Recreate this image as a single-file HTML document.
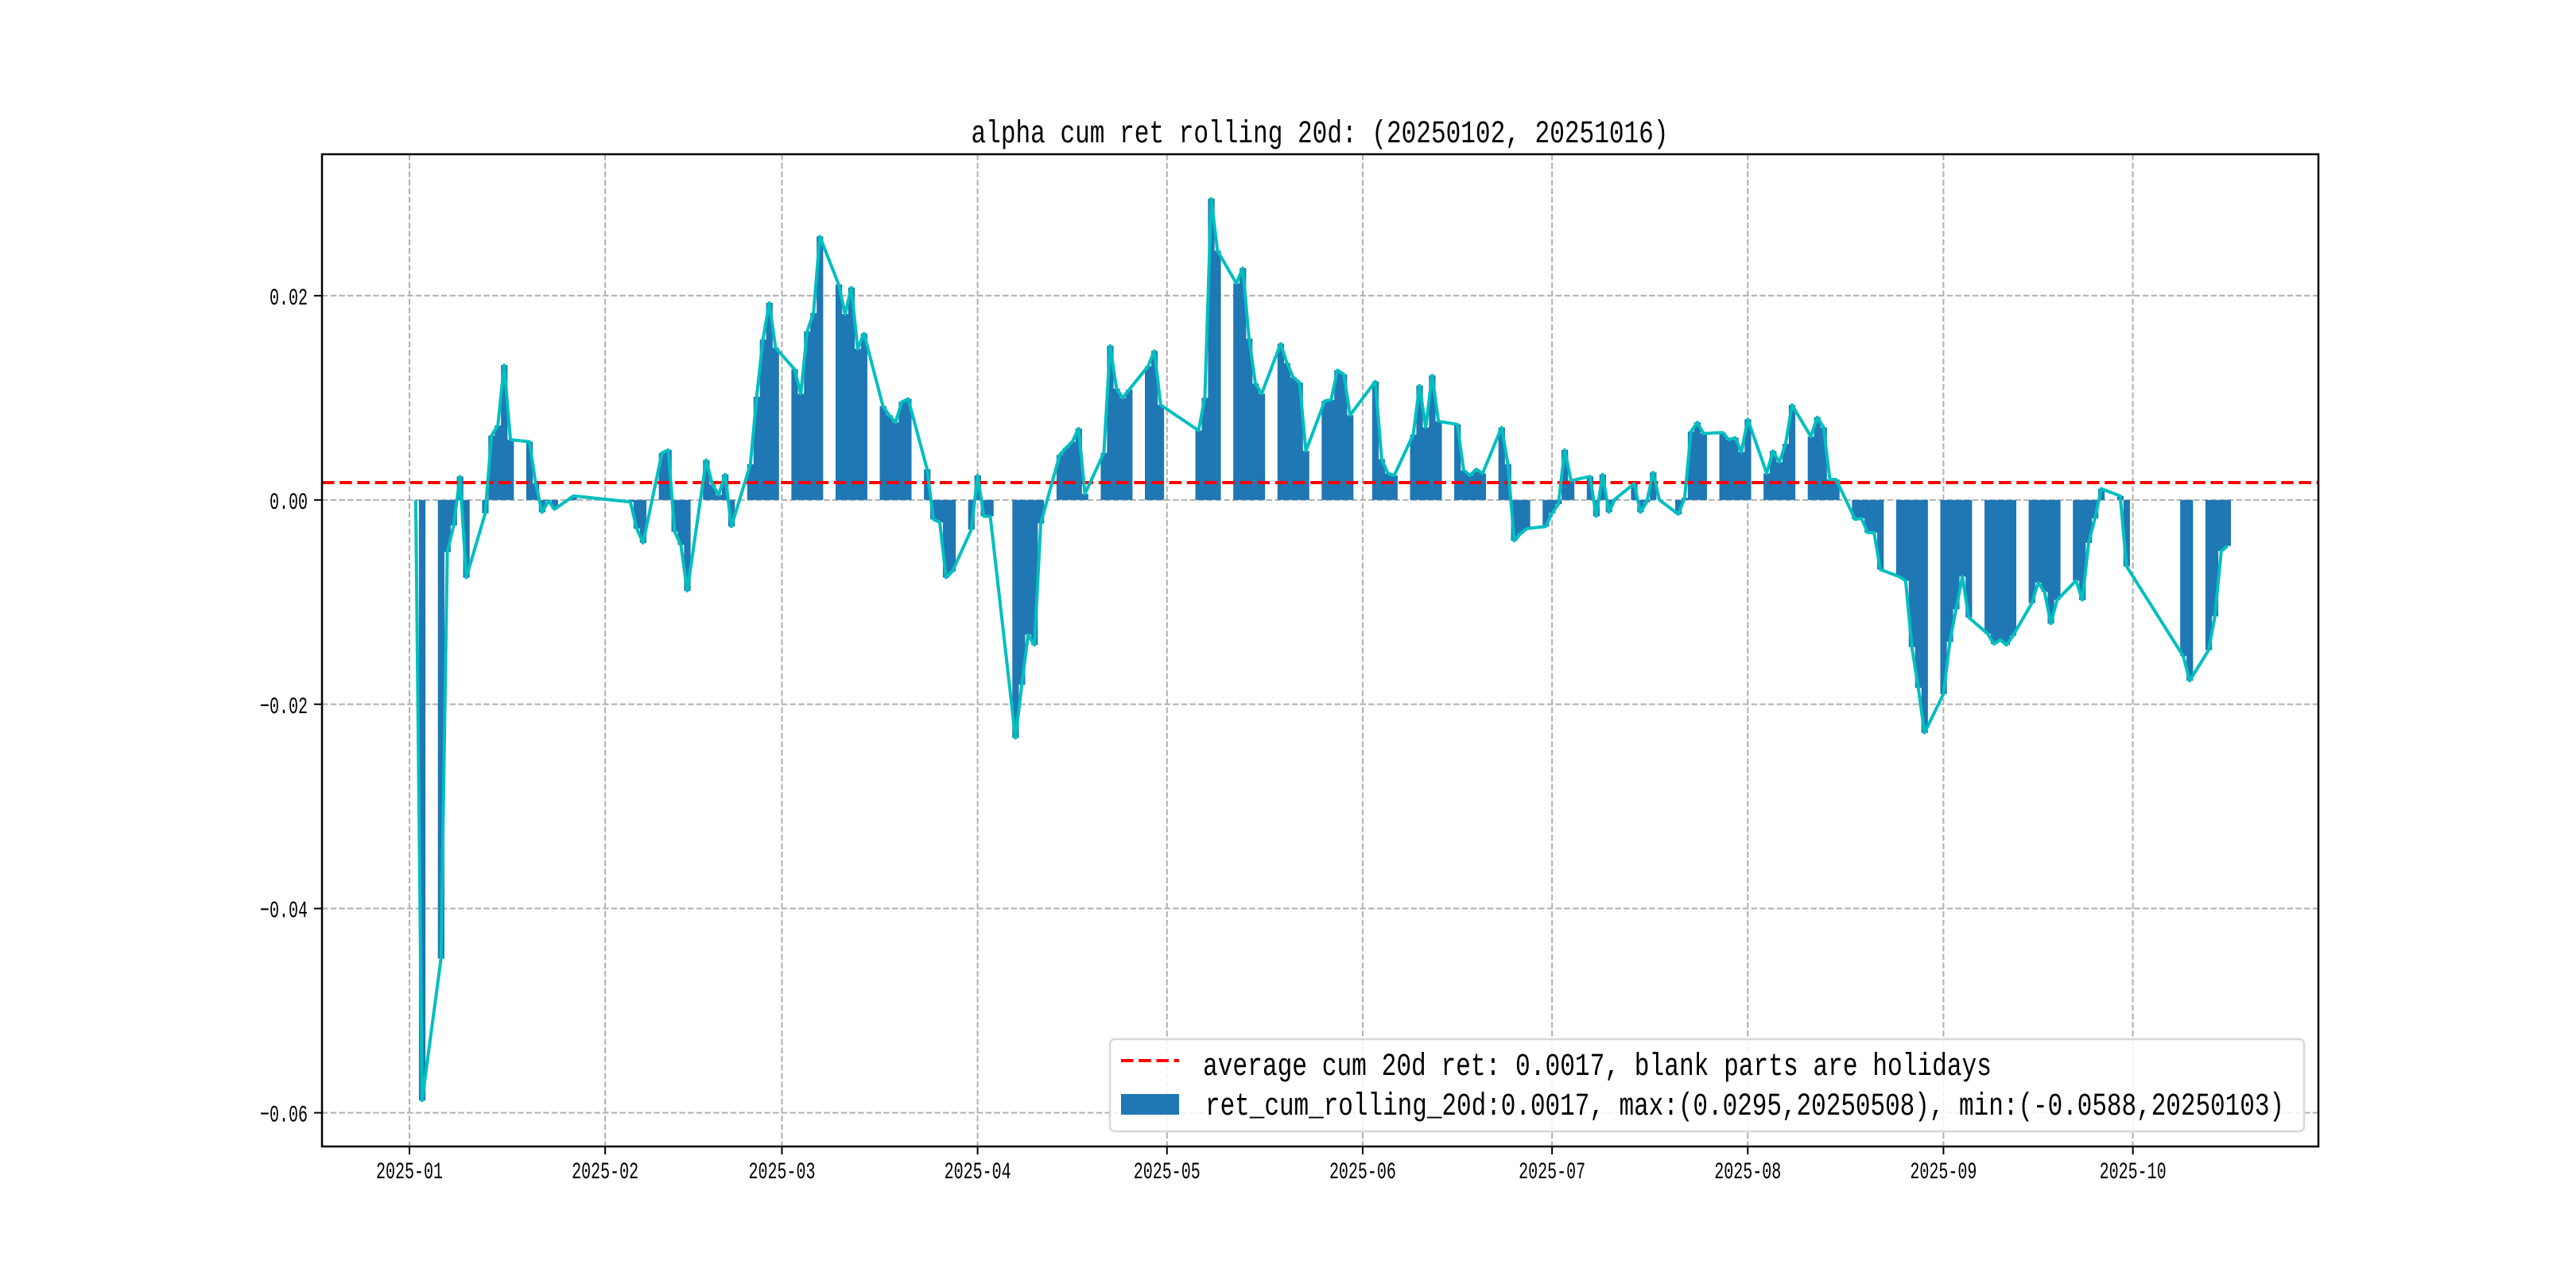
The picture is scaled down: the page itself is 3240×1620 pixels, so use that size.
<!DOCTYPE html>
<html><head><meta charset="utf-8"><style>
html,body{margin:0;padding:0;background:#fff;}
svg{display:block;}
text{font-family:"Liberation Mono","WenQuanYi Zen Hei",monospace;fill:#000;}
</style></head><body>
<svg id="chart" width="3240" height="1620" viewBox="0 0 3240 1620" xmlns="http://www.w3.org/2000/svg">
<rect x="0" y="0" width="3240" height="1620" fill="#fff"/>
<text x="1660" y="179" font-size="40" text-anchor="middle" textLength="877" lengthAdjust="spacingAndGlyphs">alpha cum ret rolling 20d: (20250102, 20251016)</text>
<g id="grid"></g>
<g id="bars"></g>
<g id="avgline"></g>
<g id="line"></g>
<rect x="405" y="194" width="2511" height="1248" fill="none" stroke="#000" stroke-width="2.5"/>
<g id="ticks"></g>
<g>
<rect x="1396" y="1307" width="1502" height="116" rx="6" fill="#fff" fill-opacity="0.85" stroke="#d8d8d8" stroke-width="2.5"/>
<line x1="1410" y1="1334" x2="1483" y2="1334" stroke="#ff0000" stroke-width="4" stroke-dasharray="15.5,6.7"/>
<text x="1513" y="1352" font-size="40" textLength="992" lengthAdjust="spacingAndGlyphs">average cum 20d ret: 0.0017, blank parts are holidays</text>
<rect x="1410" y="1376" width="73" height="26" fill="#1f77b4"/>
<text x="1516" y="1402" font-size="40" textLength="1357" lengthAdjust="spacingAndGlyphs">ret_cum_rolling_20d:0.0017, max:(0.0295,20250508), min:(-0.0588,20250103)</text>
</g>
</svg>
<script>
const dates = ["01-02","01-03","01-06","01-07","01-08","01-09","01-10","01-13","01-14","01-15","01-16","01-17","01-20","01-21","01-22","01-23","01-24","01-27",
"02-05","02-06","02-07","02-10","02-11","02-12","02-13","02-14","02-17","02-18","02-19","02-20","02-21","02-24","02-25","02-26","02-27","02-28",
"03-03","03-04","03-05","03-06","03-07","03-10","03-11","03-12","03-13","03-14","03-17","03-18","03-19","03-20","03-21","03-24","03-25","03-26","03-27","03-28","03-31",
"04-01","04-02","04-03","04-07","04-08","04-09","04-10","04-11","04-14","04-15","04-16","04-17","04-18","04-21","04-22","04-23","04-24","04-25","04-28","04-29","04-30",
"05-06","05-07","05-08","05-09","05-12","05-13","05-14","05-15","05-16","05-19","05-20","05-21","05-22","05-23","05-26","05-27","05-28","05-29","05-30",
"06-03","06-04","06-05","06-06","06-09","06-10","06-11","06-12","06-13","06-16","06-17","06-18","06-19","06-20","06-23","06-24","06-25","06-26","06-27","06-30",
"07-01","07-02","07-03","07-04","07-07","07-08","07-09","07-10","07-11","07-14","07-15","07-16","07-17","07-18","07-21","07-22","07-23","07-24","07-25","07-28","07-29","07-30","07-31",
"08-01","08-04","08-05","08-06","08-07","08-08","08-11","08-12","08-13","08-14","08-15","08-18","08-19","08-20","08-21","08-22","08-25","08-26","08-27","08-28","08-29",
"09-01","09-02","09-03","09-04","09-05","09-08","09-09","09-10","09-11","09-12","09-15","09-16","09-17","09-18","09-19","09-22","09-23","09-24","09-25","09-26","09-29","09-30",
"10-09","10-10","10-13","10-14","10-15","10-16"];
const values = [0,-0.0588,-0.0449,-0.0051,-0.0025,0.0023,-0.0076,-0.0013,0.0063,0.0073,0.0132,0.0059,0.0057,0.0016,-0.0012,-0.0001,-0.0009,0.0004,
-0.0002,-0.0028,-0.0042,0.0046,0.0049,-0.0031,-0.0044,-0.0089,0.0039,0.0015,0.0005,0.0025,-0.0026,0.0035,0.0101,0.0157,0.0193,0.0149,
0.0128,0.0104,0.0165,0.0183,0.0258,0.0211,0.0182,0.0208,0.0148,0.0163,0.0092,0.0083,0.0076,0.0096,0.0099,0.0030,-0.0019,-0.0022,-0.0076,-0.0070,-0.0029,
0.0024,-0.0016,-0.0016,-0.0233,-0.0181,-0.0132,-0.0142,-0.0023,0.0044,0.0051,0.0057,0.0070,0.0006,0.0046,0.0151,0.0109,0.0100,0.0108,0.0131,0.0146,0.0093,
0.0068,0.0100,0.0295,0.0244,0.0212,0.0227,0.0158,0.0114,0.0104,0.0153,0.0134,0.0120,0.0115,0.0048,0.0097,0.0098,0.0127,0.0123,0.0083,
0.0116,0.0040,0.0026,0.0024,0.0064,0.0112,0.0071,0.0122,0.0077,0.0074,0.0029,0.0024,0.0030,0.0026,0.0071,0.0035,-0.0040,-0.0033,-0.0028,-0.0026,
-0.0013,-0.0004,0.0049,0.0019,0.0023,-0.0016,0.0025,-0.0012,0.0001,0.0016,-0.0012,-0.0002,0.0027,0.0000,-0.0014,0.0002,0.0067,0.0076,0.0065,0.0066,0.0059,0.0061,0.0047,
0.0079,0.0026,0.0048,0.0037,0.0055,0.0093,0.0062,0.0081,0.0071,0.0020,0.0020,-0.0019,-0.0018,-0.0032,-0.0032,-0.0068,-0.0075,-0.0079,-0.0144,-0.0184,-0.0228,
-0.0190,-0.0139,-0.0107,-0.0075,-0.0115,-0.0131,-0.0141,-0.0137,-0.0142,-0.0133,-0.0101,-0.0081,-0.0090,-0.0121,-0.0098,-0.0079,-0.0098,-0.0042,-0.0018,0.0011,0.0004,-0.0065,
-0.0153,-0.0177,-0.0147,-0.0114,-0.0050,-0.0045];
const avgValue = 0.0017;
const yTicks = [0.02, 0, -0.02, -0.04, -0.06];
const yTickLabels = ["0.02","0.00","\u22120.02","\u22120.04","\u22120.06"];
const xTickMonths = [1,2,3,4,5,6,7,8,9,10];
const xTickLabels = ["2025-01","2025-02","2025-03","2025-04","2025-05","2025-06","2025-07","2025-08","2025-09","2025-10"];

const NS = "http://www.w3.org/2000/svg";
const L = 405, R = 2916, T = 194, B = 1442;
const yMin = -0.0633, yMax = 0.03385;
const pxPerDay = 7.94, x0 = 515;
function dayOf(m, d) { return (Date.UTC(2025, m - 1, d) - Date.UTC(2025, 0, 1)) / 86400000; }
function X(day) { return x0 + day * pxPerDay; }
function Y(v) { return B - (v - yMin) / (yMax - yMin) * (B - T); }
function el(tag, attrs, parent) {
  const e = document.createElementNS(NS, tag);
  for (const k in attrs) e.setAttribute(k, attrs[k]);
  parent.appendChild(e);
  return e;
}
const grid = document.getElementById('grid');
const ticks = document.getElementById('ticks');
yTicks.forEach((v, i) => {
  const y = Y(v);
  const g = el('line', {x1: L, x2: R, y1: y, y2: y, stroke: '#b0b0b0', 'stroke-width': 2, 'stroke-dasharray': '7.5,3.2'}, grid);
  
  
  const t = el('line', {x1: L - 10, x2: L, y1: y, y2: y, stroke: '#000', 'stroke-width': 2}, ticks);
  
  
  const lab = el('text', {x: 387, y: y + 11, 'font-size': 30, 'text-anchor': 'end', textLength: yTickLabels[i].length * 12, lengthAdjust: 'spacingAndGlyphs'}, ticks);
  lab.textContent = yTickLabels[i];
  
  
});
xTickMonths.forEach((m, i) => {
  const x = X(dayOf(m, 1));
  const g = el('line', {x1: x, x2: x, y1: T, y2: B, stroke: '#b0b0b0', 'stroke-width': 2, 'stroke-dasharray': '7.5,3.2'}, grid);
  
  
  const t = el('line', {x1: x, x2: x, y1: B, y2: B + 10, stroke: '#000', 'stroke-width': 2}, ticks);
  
  
  const lab = el('text', {x: x, y: 1482, 'font-size': 30, 'text-anchor': 'middle', textLength: 84, lengthAdjust: 'spacingAndGlyphs'}, ticks);
  lab.textContent = xTickLabels[i];
  
  
});
const bars = document.getElementById('bars');
const pts = [];
dates.forEach((ds, i) => {
  const [m, d] = ds.split('-').map(Number);
  const x = X(dayOf(m, d));
  const v = values[i];
  const y0 = Y(0), y1 = Y(v);
  pts.push(x.toFixed(1) + ',' + y1.toFixed(1));
  if (v !== 0) {
    const b = el('rect', {x: x - pxPerDay / 2, y: Math.min(y0, y1), width: pxPerDay + 0.3, height: Math.abs(y1 - y0), fill: '#1f77b4'}, bars);
    
    
  }
});
const ya = Y(avgValue);
const avg = el('line', {x1: L, x2: R, y1: ya, y2: ya, stroke: '#ff0000', 'stroke-width': 4, 'stroke-dasharray': '15.5,6.7'}, document.getElementById('avgline'));


const pl = el('polyline', {points: pts.join(' '), fill: 'none', stroke: '#00bfbf', 'stroke-width': 4, 'stroke-linejoin': 'round'}, document.getElementById('line'));


</script>
</body></html>
